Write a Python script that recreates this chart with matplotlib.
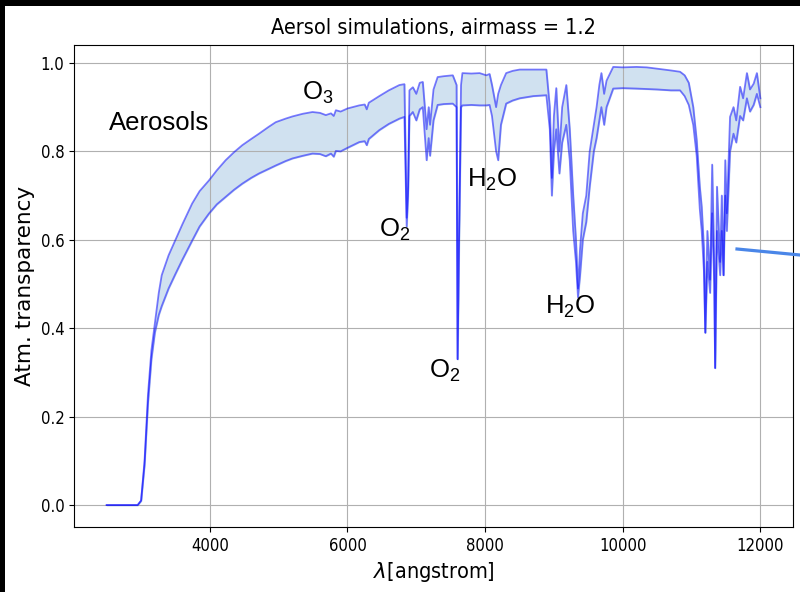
import matplotlib.pyplot as plt
from matplotlib.patches import Rectangle
from matplotlib.lines import Line2D

# Wavelength grid (angstrom) and transparency envelope
wavelength = [2500, 2950, 3000, 3050, 3100, 3150, 3200, 3257, 3300, 3400,
              3500, 3600, 3742, 3850, 3985, 4100, 4229, 4350, 4471, 4600,
              4714, 4850, 4957, 5100, 5200, 5350, 5491, 5600, 5685, 5760,
              5800, 5831, 5900, 6000, 6171, 6250, 6280, 6310, 6462, 6600,
              6754, 6827, 6860, 6880, 6900, 6950, 7000, 7050, 7094, 7150,
              7180, 7200, 7250, 7310, 7400, 7530, 7585, 7600, 7620, 7650,
              7670, 7800, 7920, 8017, 8065, 8100, 8160, 8190, 8230, 8306,
              8400, 8502, 8700, 8890, 8940, 8970, 9000, 9034, 9080, 9120,
              9180, 9230, 9280, 9320, 9350, 9380, 9420, 9470, 9520, 9580,
              9620, 9660, 9690, 9730, 9765, 9862, 10000, 10200, 10348, 10500,
              10700, 10833, 10900, 10960, 11025, 11075, 11120, 11148, 11180, 11200,
              11230, 11270, 11300, 11330, 11343, 11370, 11416, 11440, 11465, 11490,
              11513, 11560, 11610, 11650, 11706, 11750, 11805, 11850, 11903, 11950,
              12000]

upper = [0.0, 0.0, 0.01, 0.10, 0.25, 0.35, 0.41, 0.48, 0.52, 0.565,
         0.60, 0.635, 0.682, 0.71, 0.734, 0.757, 0.78, 0.798, 0.814, 0.828,
         0.840, 0.855, 0.866, 0.874, 0.879, 0.885, 0.889, 0.887, 0.882, 0.886,
         0.880, 0.893, 0.890, 0.897, 0.904, 0.906, 0.895, 0.910, 0.925, 0.938,
         0.950, 0.952, 0.65, 0.72, 0.938, 0.945, 0.93, 0.955, 0.957, 0.85,
         0.90, 0.86, 0.94, 0.968, 0.970, 0.972, 0.95, 0.33, 0.60, 0.95,
         0.977, 0.976, 0.977, 0.972, 0.975, 0.95, 0.90, 0.93, 0.95, 0.977,
         0.982, 0.985, 0.985, 0.985, 0.90, 0.74, 0.88, 0.943, 0.80, 0.90,
         0.95, 0.85, 0.70, 0.60, 0.49, 0.58, 0.66, 0.70, 0.80, 0.86,
         0.90, 0.95, 0.977, 0.93, 0.96, 0.991, 0.990, 0.991, 0.990, 0.987,
         0.983, 0.980, 0.972, 0.955, 0.90, 0.825, 0.72, 0.674, 0.58, 0.39,
         0.62, 0.51, 0.77, 0.55, 0.31, 0.72, 0.55, 0.70, 0.52, 0.78,
         0.66, 0.878, 0.90, 0.87, 0.946, 0.92, 0.977, 0.94, 0.953, 0.977,
         0.92]

lower = [0.0, 0.0, 0.01, 0.09, 0.23, 0.33, 0.39, 0.43, 0.45, 0.49,
         0.523, 0.555, 0.598, 0.63, 0.659, 0.68, 0.697, 0.713, 0.727, 0.74,
         0.750, 0.760, 0.768, 0.778, 0.784, 0.790, 0.795, 0.794, 0.789, 0.795,
         0.788, 0.801, 0.800, 0.808, 0.821, 0.823, 0.814, 0.828, 0.848, 0.862,
         0.874, 0.878, 0.63, 0.70, 0.88, 0.889, 0.87, 0.895, 0.90, 0.78,
         0.83, 0.79, 0.87, 0.905, 0.907, 0.908, 0.90, 0.33, 0.58, 0.90,
         0.904, 0.905, 0.904, 0.904, 0.905, 0.88, 0.80, 0.78, 0.86, 0.908,
         0.915, 0.92, 0.925, 0.927, 0.85, 0.70, 0.80, 0.85, 0.75, 0.82,
         0.86, 0.78, 0.62, 0.55, 0.47, 0.52, 0.60, 0.64, 0.72, 0.80,
         0.83, 0.87, 0.90, 0.86, 0.90, 0.942, 0.943, 0.942, 0.941, 0.940,
         0.938, 0.938, 0.925, 0.905, 0.86, 0.79, 0.67, 0.62, 0.53, 0.39,
         0.55, 0.48, 0.66, 0.50, 0.31, 0.62, 0.52, 0.62, 0.52, 0.70,
         0.62, 0.80, 0.84, 0.82, 0.88, 0.87, 0.92, 0.89, 0.905, 0.93,
         0.90]

# Slide annotations: label, wavelength, transparency (text baseline)
labels = ['Aerosols', r'$\mathregular{O_3}$', r'$\mathregular{O_2}$',
          r'$\mathregular{H_2O}$', r'$\mathregular{O_2}$', r'$\mathregular{H_2O}$']
label_x = [2539, 5345, 6462, 7734, 7181, 8877]
label_y = [0.848, 0.9155, 0.607, 0.719, 0.289, 0.4325]

fig = plt.figure(figsize=(8, 5.92), dpi=100, facecolor='black')
fig.patches.append(Rectangle((5 / 800, 0), 1, 586 / 592, transform=fig.transFigure,
                             facecolor='white', edgecolor='none', zorder=-1))

ax = fig.add_axes([74 / 800, 65 / 592, 719 / 800, 482 / 592])
tick_font = dict(family='DejaVu Sans', stretch='condensed')

ax.fill_between(wavelength, lower, upper, color='#d0e1f0')
ax.plot(wavelength, upper, color='b', alpha=0.5, lw=1.3)
ax.plot(wavelength, lower, color='b', alpha=0.5, lw=1.3)

ax.set_title('Aersol simulations, airmass = 1.2', fontsize=15.5, pad=8, **tick_font)
ax.set_xlabel(r'$\lambda$[angstrom]', fontsize=15.5, **tick_font)
ax.set_ylabel('Atm. transparency', fontsize=15.5, family='DejaVu Sans')
ax.grid(True)
for lab in ax.get_xticklabels() + ax.get_yticklabels():
    lab.set_fontsize(12)
    lab.set_fontstretch('condensed')

for txt, lx, ly in zip(labels, label_x, label_y):
    ax.text(lx, ly, txt, fontsize=18.5, family='Liberation Sans', va='baseline')

fig.add_artist(Line2D([737 / 800, 1.0], [1 - 249 / 592, 1 - 255 / 592],
                      transform=fig.transFigure, color='#4a86e8', lw=2.3))

fig.savefig('out.png', dpi=100, facecolor=fig.get_facecolor())
